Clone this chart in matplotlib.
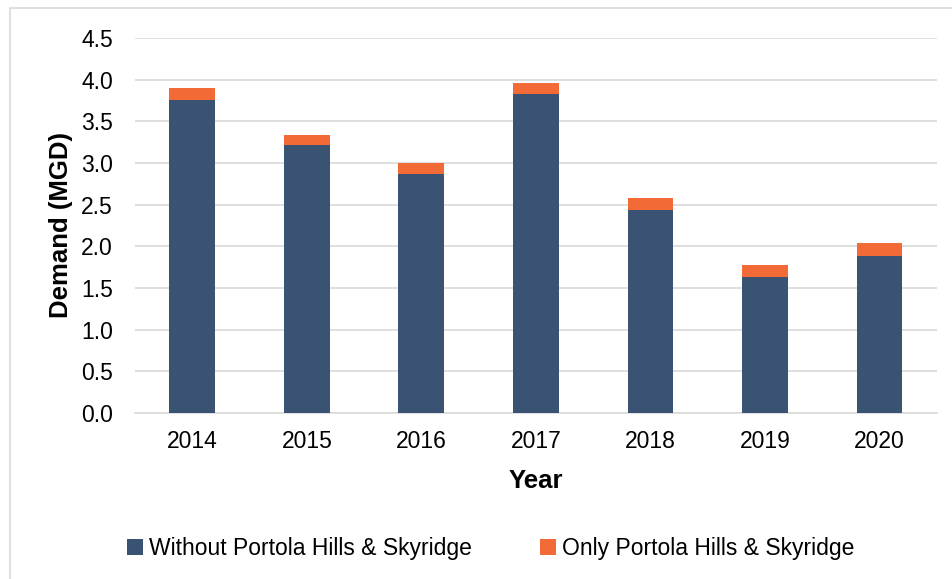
import matplotlib.pyplot as plt
from matplotlib.patches import Rectangle

plt.rcParams["font.family"] = ["Liberation Sans", "DejaVu Sans"]

years = ["2014", "2015", "2016", "2017", "2018", "2019", "2020"]
without_ph = [3.75, 3.21, 2.87, 3.83, 2.44, 1.63, 1.88]
only_ph = [0.15, 0.13, 0.13, 0.13, 0.14, 0.14, 0.16]

dark = "#3A5373"
orange = "#F26A36"

fig = plt.figure(figsize=(9.53, 5.79), dpi=100)
ax = fig.add_axes([0.1417, 0.2867, 0.8413, 0.6477])

# outer chart border
fig.patches.append(
    Rectangle((10 / 953, -0.01), 1.0, 1 - 8 / 579 + 0.01,
              transform=fig.transFigure, fill=False,
              edgecolor="#D9D9D9", linewidth=1.2)
)

x = range(len(years))

ax.bar(x, without_ph, width=0.4, color=dark,
       label="Without Portola Hills & Skyridge", zorder=3)
ax.bar(x, only_ph, width=0.4, bottom=without_ph, color=orange,
       label="Only Portola Hills & Skyridge", zorder=3)

ax.set_xlim(-0.5, len(years) - 0.5)
ax.set_ylim(0, 4.5)
ax.set_yticks([i * 0.5 for i in range(10)])
ax.set_yticklabels([f"{i * 0.5:.1f}" for i in range(10)])
ax.set_xticks(list(x))
ax.set_xticklabels(years)

ax.grid(axis="y", color="#D9D9D9", linewidth=1.2, zorder=0)
for side in ["top", "right", "left"]:
    ax.spines[side].set_visible(False)
ax.spines["bottom"].set_color("#D9D9D9")
ax.spines["bottom"].set_linewidth(1.2)

ax.tick_params(axis="both", length=0, labelsize=16.5, colors="black")
ax.tick_params(axis="x", pad=12)
ax.tick_params(axis="y", pad=16)

ax.set_xlabel("Year", fontsize=18.5, fontweight="bold", labelpad=12)
ax.set_ylabel("Demand (MGD)", fontsize=18.5, fontweight="bold", labelpad=6)

fig.legend(loc="center", bbox_to_anchor=(0.515, 0.053), ncol=2,
           frameon=False, fontsize=16.5, handlelength=0.7, handleheight=0.7,
           handletextpad=0.25, columnspacing=3.0)

fig.savefig("out.png", dpi=100)
